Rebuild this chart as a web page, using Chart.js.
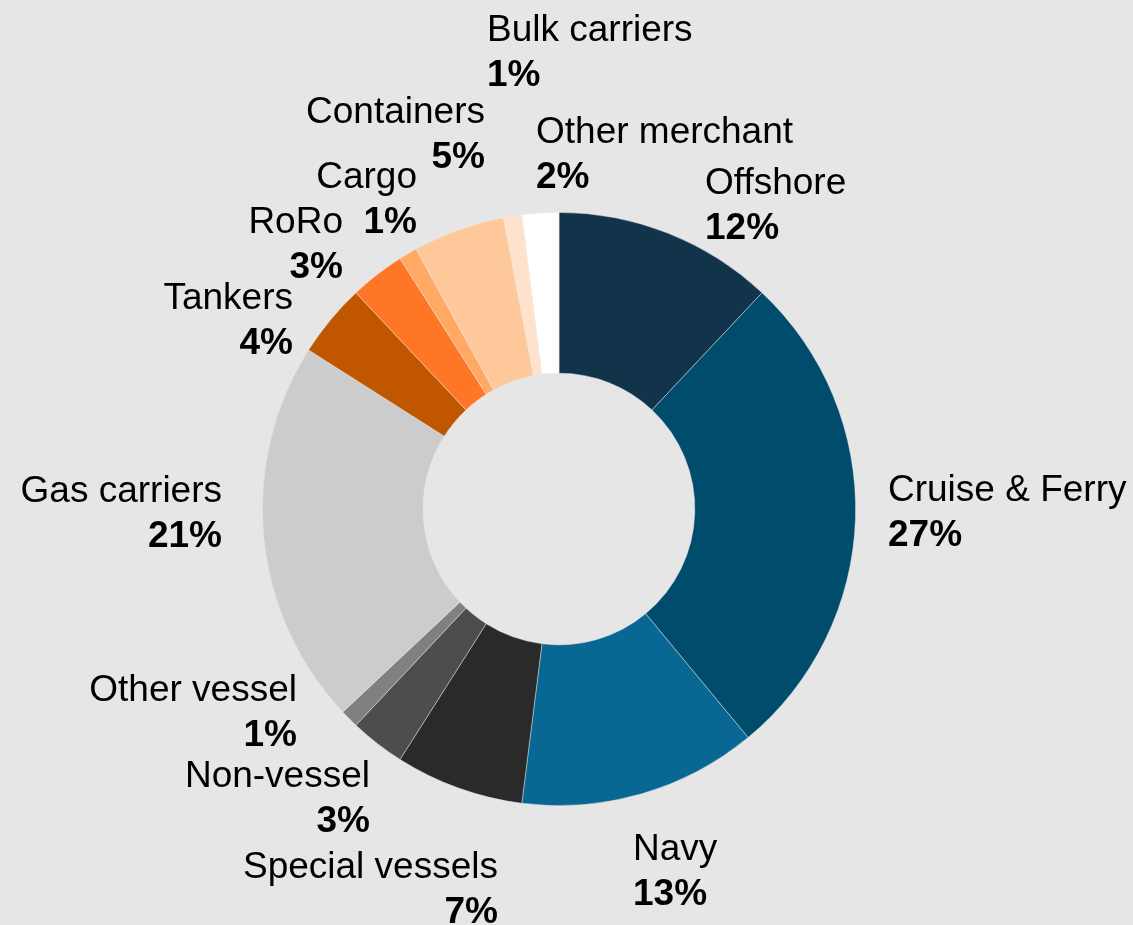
<!DOCTYPE html>
<html>
<head>
<meta charset="utf-8">
<script src="https://cdn.jsdelivr.net/npm/chart.js@4"></script>
<style>
  html, body { margin:0; padding:0; background:#e6e6e6; }
  #wrap { width:1133px; height:925px; position:relative; }
</style>
</head>
<body>
<div id="wrap"><canvas id="chart"></canvas></div>
<script>
// Segments clockwise from 12 o'clock
const categories = ['Offshore','Cruise & Ferry','Navy','Special vessels','Non-vessel','Other vessel',
  'Gas carriers','Tankers','RoRo','Cargo','Containers','Bulk carriers','Other merchant'];
const shares = [12, 27, 13, 7, 3, 1, 21, 4, 3, 1, 5, 1, 2];
const colors = ['#11344b','#004c6c','#086793','#2a2a2a','#4d4d4d','#808080',
  '#cccccc','#c05600','#ff7726','#ffa964','#ffc89b','#ffe2cb','#ffffff'];

// label placement, relative to the doughnut centre: [dx, first baseline dy, text align]
const labelLayout = [
  [146, -315.5, 'left'],
  [329, -8.5, 'left'],
  [74, 350.5, 'left'],
  [-61, 368.5, 'right'],
  [-189, 277.5, 'right'],
  [-262, 191.5, 'right'],
  [-337, -7.5, 'right'],
  [-266, -200.5, 'right'],
  [-216, -276.5, 'right'],
  [-142, -321.5, 'right'],
  [-74, -386.5, 'right'],
  [-72, -468.5, 'left'],
  [-23, -366.5, 'left']
];

const outsideLabels = {
  id: 'outsideLabels',
  afterDatasetsDraw(chart) {
    const arc = chart.getDatasetMeta(0).data[0];
    const cx = arc.x, cy = arc.y;
    const ctx = chart.ctx;
    ctx.save();
    ctx.fillStyle = '#000';
    ctx.textBaseline = 'alphabetic';
    categories.forEach((name, i) => {
      const [dx, dy, align] = labelLayout[i];
      ctx.textAlign = align;
      ctx.font = '37px "Liberation Sans", Arial, sans-serif';
      ctx.fillText(name, cx + dx, cy + dy);
      ctx.font = 'bold 37px "Liberation Sans", Arial, sans-serif';
      ctx.fillText(shares[i] + '%', cx + dx, cy + dy + 45);
    });
    ctx.restore();
  }
};

new Chart(document.getElementById('chart'), {
  type: 'doughnut',
  data: {
    labels: categories,
    datasets: [{
      data: shares,
      backgroundColor: colors,
      borderColor: 'rgba(235,235,235,0.6)',
      borderWidth: 0.75
    }]
  },
  options: {
    responsive: true,
    maintainAspectRatio: false,
    animation: false,
    cutout: '45.8%',
    layout: { padding: { left: 262, right: 277, top: 212, bottom: 119 } },
    plugins: {
      legend: { display: false },
      tooltip: { enabled: false }
    }
  },
  plugins: [outsideLabels]
});
</script>
</body>
</html>
